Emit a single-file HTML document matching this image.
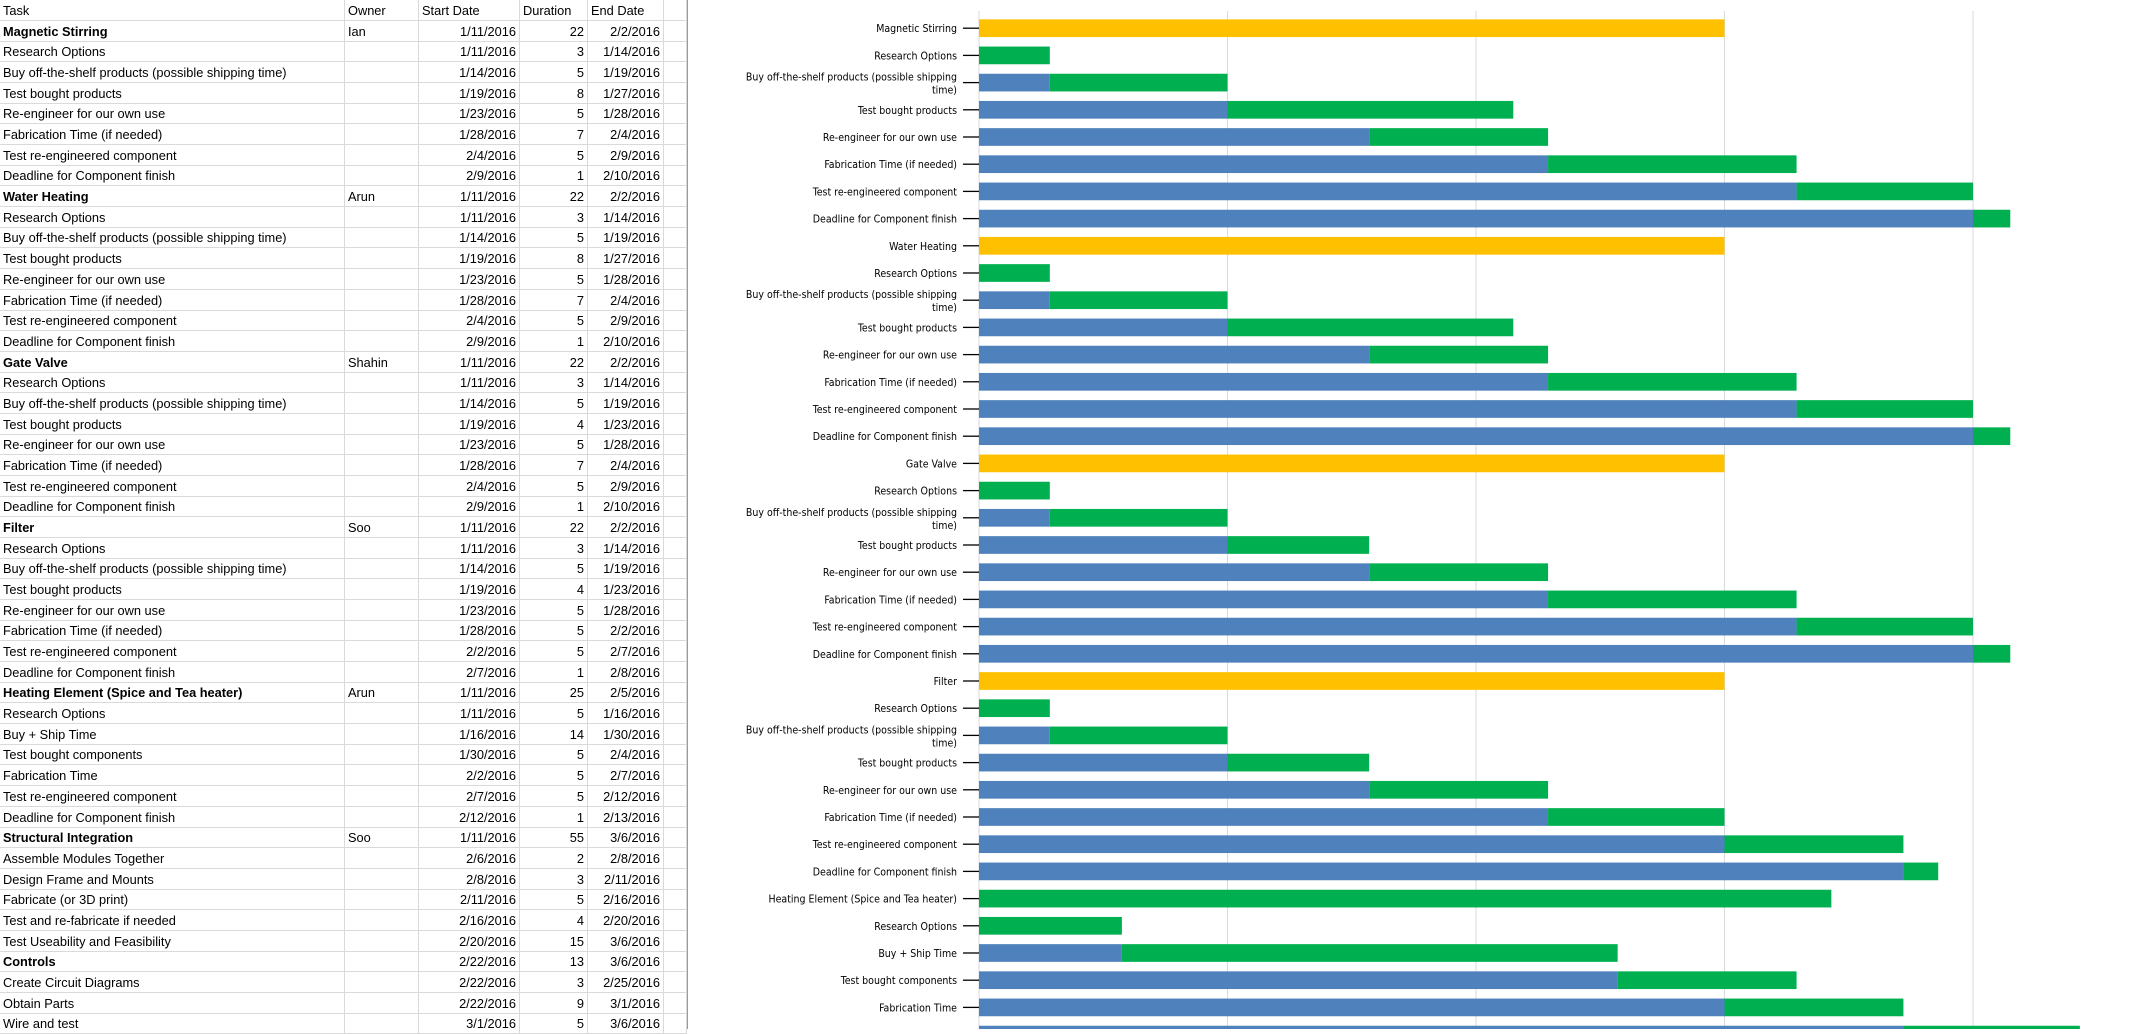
<!DOCTYPE html>
<html><head><meta charset="utf-8">
<style>
html,body{margin:0;padding:0;background:#fff;width:2130px;height:1029px;overflow:hidden;}
#sheet{position:absolute;left:0;top:0;width:687px;height:1029px;border-right:1px solid #9a9a9a;font-family:"Liberation Sans",sans-serif;font-size:12.8px;color:#000;}
.r{position:absolute;left:0;width:687px;height:20px;border-bottom:1px solid #dadada;}
.c{position:absolute;top:0;height:20px;line-height:21px;white-space:nowrap;border-right:1px solid #dadada;box-sizing:border-box;padding:0 3px;overflow:visible;}
.b{font-weight:bold;}
#chart{position:absolute;left:690px;top:0;}
</style></head><body>
<div id="sheet"></div>
<svg id="chart" width="1440" height="1029"></svg>
<script>
// ---------- table data ----------
const taskNames=["Magnetic Stirring","Research Options","Buy off-the-shelf products (possible shipping time)","Test bought products","Re-engineer for our own use","Fabrication Time (if needed)","Test re-engineered component","Deadline for Component finish",
"Water Heating","Research Options","Buy off-the-shelf products (possible shipping time)","Test bought products","Re-engineer for our own use","Fabrication Time (if needed)","Test re-engineered component","Deadline for Component finish",
"Gate Valve","Research Options","Buy off-the-shelf products (possible shipping time)","Test bought products","Re-engineer for our own use","Fabrication Time (if needed)","Test re-engineered component","Deadline for Component finish",
"Filter","Research Options","Buy off-the-shelf products (possible shipping time)","Test bought products","Re-engineer for our own use","Fabrication Time (if needed)","Test re-engineered component","Deadline for Component finish",
"Heating Element (Spice and Tea heater)","Research Options","Buy + Ship Time","Test bought components","Fabrication Time","Test re-engineered component","Deadline for Component finish",
"Structural Integration","Assemble Modules Together","Design Frame and Mounts","Fabricate (or 3D print)","Test and re-fabricate if needed","Test Useability and Feasibility",
"Controls","Create Circuit Diagrams","Obtain Parts","Wire and test"];
const boldRows=[0,8,16,24,32,39,45];
const owners={0:"Ian",8:"Arun",16:"Shahin",24:"Soo",32:"Arun",39:"Soo"};
const startDates=["1/11/2016","1/11/2016","1/14/2016","1/19/2016","1/23/2016","1/28/2016","2/4/2016","2/9/2016",
"1/11/2016","1/11/2016","1/14/2016","1/19/2016","1/23/2016","1/28/2016","2/4/2016","2/9/2016",
"1/11/2016","1/11/2016","1/14/2016","1/19/2016","1/23/2016","1/28/2016","2/4/2016","2/9/2016",
"1/11/2016","1/11/2016","1/14/2016","1/19/2016","1/23/2016","1/28/2016","2/2/2016","2/7/2016",
"1/11/2016","1/11/2016","1/16/2016","1/30/2016","2/2/2016","2/7/2016","2/12/2016",
"1/11/2016","2/6/2016","2/8/2016","2/11/2016","2/16/2016","2/20/2016",
"2/22/2016","2/22/2016","2/22/2016","3/1/2016"];
const durations=[22,3,5,8,5,7,5,1, 22,3,5,8,5,7,5,1, 22,3,5,4,5,7,5,1, 22,3,5,4,5,5,5,1, 25,5,14,5,5,5,1, 55,2,3,5,4,15, 13,3,9,5];
const endDates=["2/2/2016","1/14/2016","1/19/2016","1/27/2016","1/28/2016","2/4/2016","2/9/2016","2/10/2016",
"2/2/2016","1/14/2016","1/19/2016","1/27/2016","1/28/2016","2/4/2016","2/9/2016","2/10/2016",
"2/2/2016","1/14/2016","1/19/2016","1/23/2016","1/28/2016","2/4/2016","2/9/2016","2/10/2016",
"2/2/2016","1/14/2016","1/19/2016","1/23/2016","1/28/2016","2/2/2016","2/7/2016","2/8/2016",
"2/5/2016","1/16/2016","1/30/2016","2/4/2016","2/7/2016","2/12/2016","2/13/2016",
"3/6/2016","2/8/2016","2/11/2016","2/16/2016","2/20/2016","3/6/2016",
"3/6/2016","2/25/2016","3/1/2016","3/6/2016"];

// ---------- chart data (axis units; gridline every 10) ----------
const chartLabels=["Magnetic Stirring","Research Options","Buy off-the-shelf products (possible shipping|time)","Test bought products","Re-engineer for our own use","Fabrication Time (if needed)","Test re-engineered component","Deadline for Component finish",
"Water Heating","Research Options","Buy off-the-shelf products (possible shipping|time)","Test bought products","Re-engineer for our own use","Fabrication Time (if needed)","Test re-engineered component","Deadline for Component finish",
"Gate Valve","Research Options","Buy off-the-shelf products (possible shipping|time)","Test bought products","Re-engineer for our own use","Fabrication Time (if needed)","Test re-engineered component","Deadline for Component finish",
"Filter","Research Options","Buy off-the-shelf products (possible shipping|time)","Test bought products","Re-engineer for our own use","Fabrication Time (if needed)","Test re-engineered component","Deadline for Component finish",
"Heating Element (Spice and Tea heater)","Research Options","Buy + Ship Time","Test bought components","Fabrication Time","Test re-engineered component"];
const startVals=[0,0,2.85,10,15.7,22.9,32.9,40, 0,0,2.85,10,15.7,22.9,32.9,40, 0,0,2.85,10,15.7,22.9,32.9,40, 0,0,2.85,10,15.7,22.9,30,37.2, 0,0,5.75,25.7,30,37.2];
const durVals=[30,2.85,7.15,11.5,7.2,10,7.1,1.5, 30,2.85,7.15,11.5,7.2,10,7.1,1.5, 30,2.85,7.15,5.7,7.2,10,7.1,1.5, 30,2.85,7.15,5.7,7.2,7.1,7.2,1.4, 34.3,5.75,19.95,7.2,7.2,7.1];
const summaryRows=[0,8,16,24];
const xTicks=[0,10,20,30,40];

// ---------- build table ----------
const sheet=document.getElementById('sheet');
const cols=[[0,345],[345,74],[419,101],[520,68],[588,76],[664,23]];
const pitch=20.68;
function addRow(i,vals,bold){
  const r=document.createElement('div');
  
  
  r.className='r';
  r.style.top=(i*pitch)+'px';
  vals.forEach((v,k)=>{
    const c=document.createElement('div');
    
    
    c.className='c'+(bold&&k===0?' b':'');
    c.style.left=cols[k][0]+'px';c.style.width=cols[k][1]+'px';
    if(i>0&&(k==2||k==3||k==4))c.style.textAlign='right';
    c.textContent=v;
    r.appendChild(c);
  });
  sheet.appendChild(r);
}
addRow(0,["Task","Owner","Start Date","Duration","End Date",""],false);
taskNames.forEach((n,j)=>addRow(j+1,[n,owners[j]||"",startDates[j],String(durations[j]),endDates[j],""],boldRows.includes(j)));

// ---------- build chart ----------
const svg=document.getElementById('chart');
const NS='http://www.w3.org/2000/svg';
const X0=289, PXU=24.85, Y0=28.2, ROW=27.2, BH=17.7, TOP=11;
const xs=v=>X0+v*PXU, yc=i=>Y0+i*ROW;
function el(t,a){const e=document.createElementNS(NS,t);for(const k in a)e.setAttribute(k,a[k]);svg.appendChild(e);return e;}
xTicks.forEach(t=>{
  if(t===0)return;
  const g=el('line',{x1:xs(t),x2:xs(t),y1:TOP,y2:1029,stroke:'#d9d9d9','stroke-width':1});
  
  
});
const ax=el('line',{x1:X0,x2:X0,y1:TOP,y2:1029,stroke:'#d9d9d9','stroke-width':1});


chartLabels.forEach((lab,i)=>{
  const y=yc(i);
  const tk=el('line',{x1:X0-16,x2:X0,y1:y,y2:y,stroke:'#000','stroke-width':1.3});
  
  
  const parts=lab.split('|');
  parts.forEach((p,k)=>{
    const ty=y+4+(parts.length>1?(k===0?-6:7):0);
    const tx=el('text',{x:X0-22,y:ty,'text-anchor':'end','font-family':'"DejaVu Sans Condensed","Liberation Sans",sans-serif','font-size':'10.5px',fill:'#000'});
    
    
    tx.textContent=p;
  });
  const summ=summaryRows.includes(i);
  if(startVals[i]>0){
    const b=el('rect',{x:xs(0),y:y-BH/2,width:xs(startVals[i])-xs(0),height:BH,fill:'#4f81bd'});
    
    
  }
  const d=el('rect',{x:xs(startVals[i]),y:y-BH/2,width:xs(startVals[i]+durVals[i])-xs(startVals[i]),height:BH,fill:summ?'#ffc000':'#00b050'});
  
  
});
</script>
</body></html>
